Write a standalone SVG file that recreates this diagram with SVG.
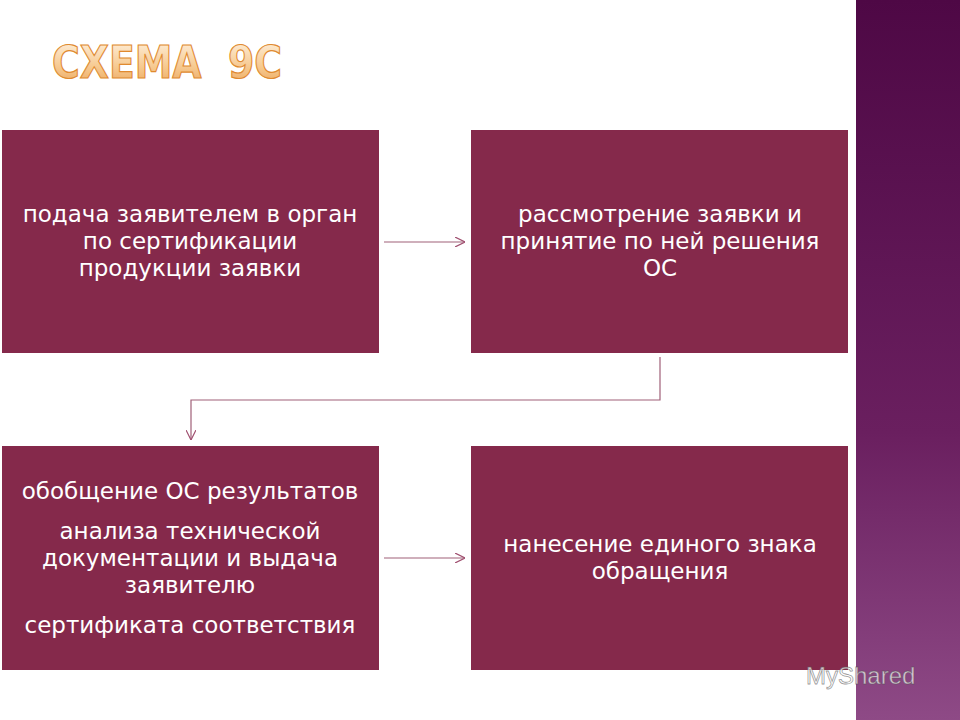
<svg xmlns="http://www.w3.org/2000/svg" width="960" height="720" viewBox="0 0 960 720">
<defs>
<linearGradient id="band" x1="0" y1="0" x2="0" y2="1">
<stop offset="0" stop-color="#4e0845"/><stop offset="0.6" stop-color="#6a1f5f"/><stop offset="1" stop-color="#8e4a86"/>
</linearGradient>
<linearGradient id="tg" x1="0" y1="0" x2="0" y2="1">
<stop offset="0" stop-color="#fff3e2"/><stop offset="0.6" stop-color="#f6c88e"/><stop offset="1" stop-color="#eaa45a"/>
</linearGradient>
<marker id="ah" viewBox="0 0 10 10" refX="10" refY="5" markerWidth="10" markerHeight="10" orient="auto" markerUnits="userSpaceOnUse">
<path d="M0,0 L10,5 L0,10" fill="none" stroke="#a05070" stroke-width="1.2"/>
</marker>
<style>
.box{fill:#85294b}
.t{font-family:"DejaVu Sans",sans-serif;font-size:23px;fill:#ffffff;text-anchor:middle}
.c{fill:none;stroke:#a06078;stroke-width:1.2}
</style>
</defs>
<rect width="960" height="720" fill="#ffffff"/>
<rect x="856" y="0" width="104" height="720" fill="url(#band)"/>
<text x="52" y="78" font-family="'DejaVu Sans',sans-serif" font-weight="bold" font-size="44" textLength="230" lengthAdjust="spacingAndGlyphs" fill="url(#tg)" stroke="#e08a30" stroke-width="1.2" xml:space="preserve">СХЕМА  9С</text>
<g id="n1"><rect class="box" x="2" y="130" width="377" height="223"/>
<text class="t"><tspan x="190" y="222">подача заявителем в орган</tspan><tspan x="190" y="249">по сертификации</tspan><tspan x="190" y="276">продукции заявки</tspan></text></g>
<g id="n2"><rect class="box" x="471" y="130" width="377" height="223"/>
<text class="t"><tspan x="660" y="222">рассмотрение заявки и</tspan><tspan x="660" y="249">принятие по ней решения</tspan><tspan x="660" y="276">ОС</tspan></text></g>
<g id="n3"><rect class="box" x="2" y="446" width="377" height="224"/>
<text class="t"><tspan x="190" y="499">обобщение ОС результатов</tspan><tspan x="190" y="539">анализа технической</tspan><tspan x="190" y="566">документации и выдача</tspan><tspan x="190" y="593">заявителю</tspan><tspan x="190" y="633">сертификата соответствия</tspan></text></g>
<g id="n4"><rect class="box" x="471" y="446" width="377" height="224"/>
<text class="t"><tspan x="660" y="552">нанесение единого знака</tspan><tspan x="660" y="579">обращения</tspan></text></g>
<g id="connectors">
<line class="c" x1="384" y1="242" x2="465" y2="242" marker-end="url(#ah)"/>
<polyline class="c" points="660,357 660,400 191,400 191,440" marker-end="url(#ah)"/>
<line class="c" x1="384" y1="558" x2="465" y2="558" marker-end="url(#ah)"/>
</g>
<text x="806" y="684" font-family="'Liberation Sans',sans-serif" font-size="24" fill="#ffffff" fill-opacity="0.7" stroke="#555" stroke-opacity="0.6" stroke-width="0.8">MyShared</text>
</svg>
